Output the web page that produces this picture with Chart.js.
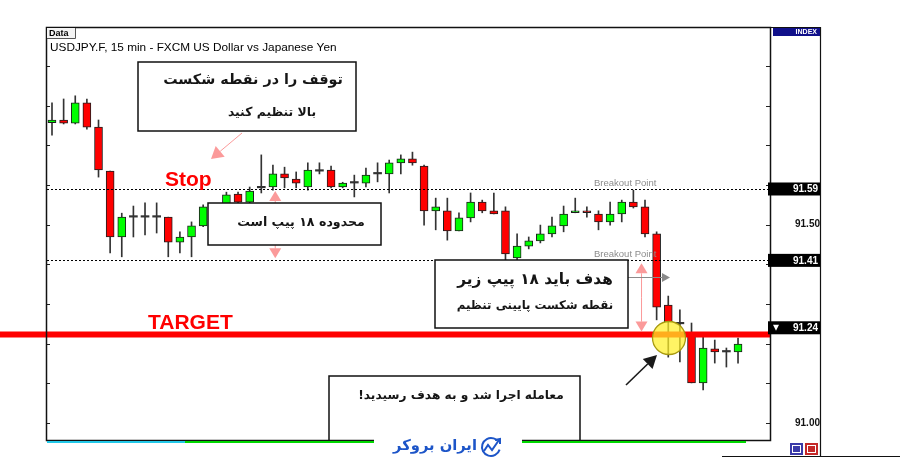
<!DOCTYPE html>
<html>
<head>
<meta charset="utf-8">
<script src="https://cdn.jsdelivr.net/npm/chart.js@4.4.0/dist/chart.umd.min.js"></script>
<style>
  html, body { margin: 0; padding: 0; background: #fff; }
</style>
</head>
<body>
<canvas id="chart" width="900" height="471"></canvas>
<script>
// USDJPY 15 min candles (one entry per bar, left to right)
const opens = [91.757, 91.764, 91.756, 91.807, 91.746, 91.635, 91.469, 91.519, 91.519, 91.519,
  91.519, 91.456, 91.469, 91.497, 91.545, 91.550, 91.577, 91.557, 91.593, 91.595,
  91.628, 91.615, 91.595, 91.635, 91.638, 91.595, 91.605, 91.605, 91.628, 91.628,
  91.656, 91.666, 91.648, 91.535, 91.535, 91.484, 91.517, 91.557, 91.535, 91.535,
  91.416, 91.446, 91.459, 91.477, 91.497, 91.530, 91.535, 91.527, 91.507, 91.527,
  91.557, 91.545, 91.477, 91.297, 91.250, 91.227, 91.101, 91.187, 91.179, 91.179];
const highs = [91.807, 91.817, 91.825, 91.817, 91.764, 91.635, 91.529, 91.547, 91.555, 91.555,
  91.519, 91.482, 91.507, 91.550, 91.553, 91.582, 91.582, 91.595, 91.676, 91.650,
  91.645, 91.633, 91.656, 91.656, 91.648, 91.607, 91.625, 91.643, 91.656, 91.663,
  91.676, 91.683, 91.650, 91.567, 91.567, 91.530, 91.580, 91.562, 91.580, 91.545,
  91.477, 91.469, 91.499, 91.519, 91.547, 91.567, 91.545, 91.535, 91.557, 91.562,
  91.587, 91.562, 91.482, 91.320, 91.285, 91.252, 91.217, 91.209, 91.189, 91.214];
const lows = [91.726, 91.754, 91.754, 91.741, 91.620, 91.429, 91.419, 91.469, 91.474, 91.479,
  91.419, 91.429, 91.419, 91.495, 91.520, 91.545, 91.550, 91.550, 91.580, 91.587,
  91.593, 91.593, 91.587, 91.628, 91.593, 91.593, 91.570, 91.595, 91.608, 91.580,
  91.628, 91.650, 91.499, 91.487, 91.461, 91.484, 91.507, 91.530, 91.527, 91.411,
  91.411, 91.439, 91.454, 91.469, 91.482, 91.530, 91.519, 91.487, 91.499, 91.507,
  91.542, 91.469, 91.260, 91.166, 91.154, 91.101, 91.083, 91.151, 91.141, 91.151];
const closes = [91.764, 91.756, 91.807, 91.746, 91.638, 91.469, 91.519, 91.519, 91.519, 91.519,
  91.456, 91.469, 91.497, 91.545, 91.550, 91.575, 91.557, 91.585, 91.593, 91.628,
  91.618, 91.605, 91.638, 91.635, 91.595, 91.605, 91.605, 91.625, 91.628, 91.656,
  91.666, 91.656, 91.535, 91.545, 91.484, 91.517, 91.557, 91.535, 91.527, 91.426,
  91.446, 91.459, 91.477, 91.497, 91.527, 91.535, 91.530, 91.507, 91.527, 91.557,
  91.545, 91.477, 91.292, 91.255, 91.250, 91.101, 91.189, 91.179, 91.179, 91.199];

// levels and axis
const breakoutLevels = [91.59, 91.41];
const targetLevel = 91.223;
const axisTicks = [91.0, 91.1, 91.2, 91.3, 91.4, 91.5, 91.6, 91.7, 91.8, 91.9];
const labelledTicks = [91.0, 91.5];
const priceTags = [91.59, 91.41, 91.24];

const title = 'USDJPY.F, 15 min - FXCM US Dollar vs Japanese Yen';
const faFont = '"DejaVu Sans"';

const candleColor = i => closes[i] > opens[i] ? '#00ff00' : closes[i] < opens[i] ? '#ff0000' : '#333333';

const bodies = opens.map((o, i) => ({ x: i, y: [o, closes[i]] }));
const wicks = opens.map((o, i) => ({ x: i, y: [lows[i], highs[i]] }));

function fitFont(ctx, text, weight, family, width) {
  ctx.font = weight + ' 20px ' + family;
  return 20 * width / ctx.measureText(text).width;
}

function arrow(ctx, x1, y1, x2, y2, color, len, half, lw) {
  const ang = Math.atan2(y2 - y1, x2 - x1);
  const bx = x2 - len * Math.cos(ang), by = y2 - len * Math.sin(ang);
  ctx.strokeStyle = color; ctx.fillStyle = color; ctx.lineWidth = lw;
  ctx.beginPath(); ctx.moveTo(x1, y1); ctx.lineTo(bx, by); ctx.stroke();
  ctx.beginPath();
  ctx.moveTo(x2, y2);
  ctx.lineTo(bx + half * Math.sin(ang), by - half * Math.cos(ang));
  ctx.lineTo(bx - half * Math.sin(ang), by + half * Math.cos(ang));
  ctx.closePath(); ctx.fill();
}

// white box with a dark frame and right-to-left text lines
function textBox(ctx, l, t, r, b, lines) {
  ctx.fillStyle = '#fff';
  ctx.fillRect(l, t, r - l, b - t);
  ctx.strokeStyle = '#111'; ctx.lineWidth = 1.5;
  ctx.strokeRect(l, t, r - l, b - t);
  ctx.direction = 'rtl';
  ctx.textAlign = 'center';
  ctx.textBaseline = 'middle';
  ctx.fillStyle = '#151515';
  lines.forEach(ln => {
    const size = Math.min(16, fitFont(ctx, ln.text, 'bold', faFont, ln.w));
    ctx.font = 'bold ' + size.toFixed(1) + 'px ' + faFont;
    ctx.fillText(ln.text, ln.cx, ln.cy);
  });
  ctx.direction = 'ltr';
}

const overlay = {
  id: 'overlay',
  afterDraw(chart) {
    const { ctx, chartArea: a, scales: { x, y } } = chart;
    ctx.save();

    // tick marks inside both edges
    ctx.strokeStyle = '#222'; ctx.lineWidth = 1;
    axisTicks.forEach(v => {
      const py = Math.round(y.getPixelForValue(v)) + 0.5;
      ctx.beginPath();
      ctx.moveTo(a.left, py); ctx.lineTo(a.left + 3, py);
      ctx.moveTo(a.right - 4, py); ctx.lineTo(a.right, py);
      ctx.stroke();
    });

    // dashed breakout lines
    ctx.setLineDash([2, 2]);
    ctx.strokeStyle = '#000';
    breakoutLevels.forEach(v => {
      const py = Math.round(y.getPixelForValue(v)) + 0.5;
      ctx.beginPath(); ctx.moveTo(a.left, py); ctx.lineTo(a.right, py); ctx.stroke();
    });
    ctx.setLineDash([]);

    // "Breakout Point" labels
    ctx.font = '9.5px "Liberation Sans"';
    ctx.fillStyle = '#8c8c8c';
    ctx.textAlign = 'left'; ctx.textBaseline = 'bottom';
    breakoutLevels.forEach(v => ctx.fillText('Breakout Point', 594, y.getPixelForValue(v) - 1));

    // target line
    const yT = y.getPixelForValue(targetLevel);
    ctx.strokeStyle = '#ff0000'; ctx.lineWidth = 6;
    ctx.beginPath(); ctx.moveTo(0, yT); ctx.lineTo(a.right, yT); ctx.stroke();

    // labels Stop / TARGET
    ctx.fillStyle = '#ff0000';
    ctx.textBaseline = 'alphabetic';
    ctx.font = 'bold 21px "Liberation Sans"';
    ctx.fillText('Stop', 165, 186);
    ctx.fillText('TARGET', 148, 329);

    // pink pointers
    const pink = 'rgba(250,120,120,0.75)';
    arrow(ctx, 242, 133, 211, 159, pink, 12, 7, 1);
    const yHi = y.getPixelForValue(breakoutLevels[0]);
    const yLo = y.getPixelForValue(breakoutLevels[1]);
    const ax1 = x.getPixelForValue(19.2);
    arrow(ctx, ax1, (yHi + yLo) / 2, ax1, yHi + 2, pink, 10, 6, 1);
    arrow(ctx, ax1, (yHi + yLo) / 2, ax1, yLo - 2, pink, 10, 6, 1);
    const ax2 = x.getPixelForValue(50.7);
    arrow(ctx, ax2, (yLo + yT) / 2, ax2, yLo + 3, pink, 10, 6, 1);
    arrow(ctx, ax2, (yLo + yT) / 2, ax2, yT - 3, pink, 10, 6, 1);
    // grey pointer to the right
    arrow(ctx, 628, 277.5, 670, 277.5, '#8a8a8a', 8, 4.5, 1.2);

    // text boxes
    textBox(ctx, 138, 62, 356, 131, [
      { text: 'توقف را در نقطه شکست', cx: 253, cy: 80, w: 180 },
      { text: 'بالا تنظیم کنید', cx: 272, cy: 113, w: 88 }
    ]);
    textBox(ctx, 208, 203, 381, 245, [
      { text: 'محدوده ۱۸ پیپ است', cx: 301, cy: 223, w: 128 }
    ]);
    textBox(ctx, 435, 260, 628, 328, [
      { text: 'هدف باید ۱۸ پیپ زیر', cx: 535, cy: 280, w: 156 },
      { text: 'نقطه شکست پایینی تنظیم', cx: 535, cy: 306, w: 157 }
    ]);
    textBox(ctx, 329, 376, 580, 441, [
      { text: 'معامله اجرا شد و به هدف رسیدید!', cx: 461, cy: 396, w: 205 }
    ]);

    // yellow marker where target was hit
    ctx.beginPath();
    ctx.arc(669, 338, 16.5, 0, Math.PI * 2);
    ctx.fillStyle = 'rgba(255,240,40,0.72)'; ctx.fill();
    ctx.strokeStyle = '#a89a10'; ctx.lineWidth = 1.3; ctx.stroke();

    // black pointer
    arrow(ctx, 626, 385, 657, 355, '#1a1a1a', 13, 7, 1.6);

    // frame
    ctx.strokeStyle = '#111'; ctx.lineWidth = 1.5;
    ctx.strokeRect(a.left - 0.5, a.top - 0.5, a.right - a.left + 1, a.bottom - a.top + 1);
    ctx.lineWidth = 1.2;
    ctx.beginPath();
    ctx.moveTo(a.right, a.top - 0.5); ctx.lineTo(820.5, a.top - 0.5); ctx.lineTo(820.5, 456);
    ctx.moveTo(722, 456.5); ctx.lineTo(900, 456.5);
    ctx.stroke();

    // coloured strips under the plot
    ctx.lineWidth = 2;
    ctx.strokeStyle = '#22c8e8';
    ctx.beginPath(); ctx.moveTo(a.left, 442); ctx.lineTo(185, 442); ctx.stroke();
    ctx.strokeStyle = '#00d800';
    ctx.beginPath(); ctx.moveTo(185, 442); ctx.lineTo(746, 442); ctx.stroke();

    // "Data" tab and title
    ctx.fillStyle = '#f4f4f4'; ctx.fillRect(a.left, a.top, 28, 10);
    ctx.strokeStyle = '#555'; ctx.lineWidth = 1;
    ctx.beginPath(); ctx.moveTo(a.left, a.top + 10.5); ctx.lineTo(a.left + 28.5, a.top + 10.5); ctx.lineTo(a.left + 28.5, a.top); ctx.stroke();
    ctx.fillStyle = '#000'; ctx.textAlign = 'left'; ctx.textBaseline = 'middle';
    ctx.font = 'bold 9px "Liberation Sans"';
    ctx.fillText('Data', a.left + 2, a.top + 5.5);
    ctx.font = fitFont(ctx, title, 'normal', '"Liberation Sans"', 287).toFixed(1) + 'px "Liberation Sans"';
    ctx.fillText(title, 50, 48);

    // price tags on the right axis
    ctx.font = 'bold 10px "Liberation Sans"';
    priceTags.forEach((v, i) => {
      const py = y.getPixelForValue(v);
      ctx.fillStyle = '#000';
      ctx.fillRect(a.right - 2, py - 6.5, 822 - a.right, 13);
      ctx.fillStyle = '#fff';
      ctx.textAlign = 'right';
      ctx.fillText(v.toFixed(2), 818, py + 0.5);
      if (i === priceTags.length - 1) {
        ctx.beginPath(); ctx.moveTo(773, py - 3); ctx.lineTo(779, py - 3); ctx.lineTo(776, py + 3); ctx.closePath(); ctx.fill();
      }
    });

    // INDEX tag
    ctx.fillStyle = '#10108a'; ctx.fillRect(773, 28, 47, 8);
    ctx.fillStyle = '#fff'; ctx.font = 'bold 7px "Liberation Sans"'; ctx.textAlign = 'right';
    ctx.fillText('INDEX', 817, 32.5);

    // small buttons bottom right
    ctx.fillStyle = '#3a3aa8'; ctx.fillRect(790, 443, 13, 12);
    ctx.fillStyle = '#c42828'; ctx.fillRect(805, 443, 13, 12);
    ctx.strokeStyle = '#fff'; ctx.lineWidth = 1;
    ctx.strokeRect(792.5, 445.5, 8, 7); ctx.strokeRect(807.5, 445.5, 8, 7);

    // watermark
    ctx.fillStyle = '#fff'; ctx.fillRect(374, 436, 148, 30);
    ctx.fillStyle = '#1d55c8';
    ctx.direction = 'rtl'; ctx.textAlign = 'center'; ctx.textBaseline = 'middle';
    ctx.font = 'bold ' + fitFont(ctx, 'ایران بروکر', 'bold', faFont, 84).toFixed(1) + 'px ' + faFont;
    ctx.fillText('ایران بروکر', 435, 446);
    ctx.direction = 'ltr';
    ctx.strokeStyle = '#1d55c8'; ctx.lineWidth = 2;
    ctx.beginPath(); ctx.arc(491, 447, 9, 0.3, Math.PI * 1.75); ctx.stroke();
    ctx.beginPath(); ctx.moveTo(484, 451); ctx.lineTo(488, 445); ctx.lineTo(492, 450); ctx.lineTo(499, 440); ctx.stroke();
    ctx.beginPath(); ctx.moveTo(495, 440); ctx.lineTo(500, 439); ctx.lineTo(500, 444); ctx.stroke();

    ctx.restore();
  }
};

new Chart(document.getElementById('chart').getContext('2d'), {
  type: 'bar',
  data: {
    datasets: [
      {
        label: 'Body',
        data: bodies,
        backgroundColor: c => candleColor(c.dataIndex),
        borderColor: '#1e1e1e',
        borderWidth: c => closes[c.dataIndex] === opens[c.dataIndex] ? 0 : 1,
        borderSkipped: false,
        barThickness: 8,
        minBarLength: 1.5,
        grouped: false,
        order: 1
      },
      {
        label: 'Wick',
        data: wicks,
        backgroundColor: '#333333',
        borderWidth: 0,
        barThickness: 1,
        grouped: false,
        order: 2
      }
    ]
  },
  options: {
    responsive: false,
    animation: false,
    layout: { padding: { left: 47, top: 28, right: 80, bottom: 31 } },
    plugins: { legend: { display: false }, tooltip: { enabled: false } },
    scales: {
      x: { type: 'linear', min: -0.43, max: 61.75, offset: false, display: false },
      y: {
        position: 'right',
        min: 90.957,
        max: 91.996,
        afterFit: s => { s.width = 50; },
        afterBuildTicks: s => { s.ticks = axisTicks.map(v => ({ value: v })); },
        grid: { display: false, drawTicks: false },
        border: { display: false },
        ticks: {
          padding: 0,
          crossAlign: 'far',
          color: '#111',
          font: { family: '"Liberation Sans"', size: 10, weight: 'bold' },
          callback: v => labelledTicks.includes(v) ? v.toFixed(2) : ''
        }
      }
    }
  },
  plugins: [overlay]
});
</script>
</body>
</html>
